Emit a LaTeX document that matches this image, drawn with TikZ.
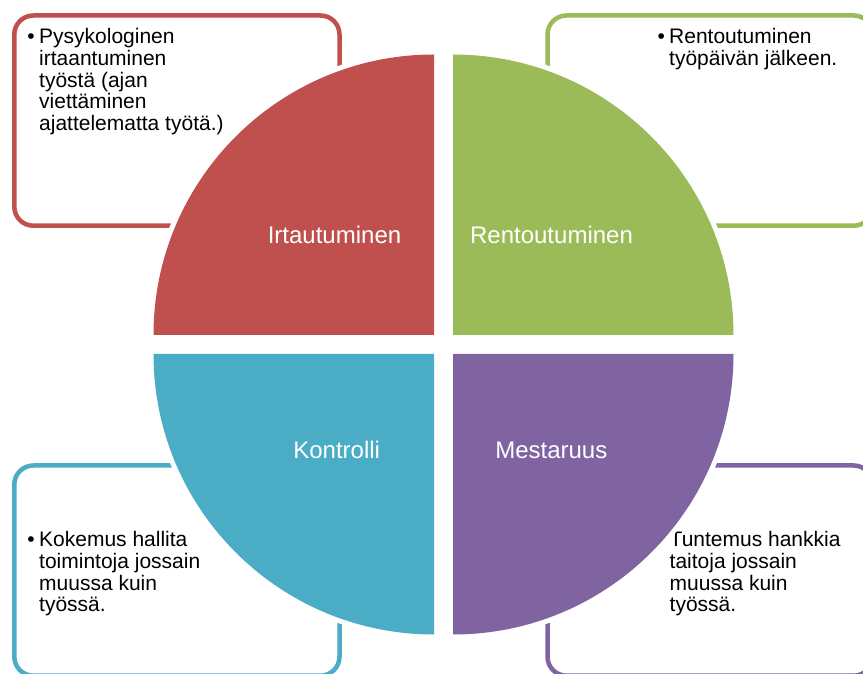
\documentclass[tikz,border=0pt]{standalone}
\usepackage{fontspec}
\setmainfont{Liberation Sans}
\definecolor{cred}{HTML}{C0504D}
\definecolor{cgreen}{HTML}{9BBB59}
\definecolor{cblue}{HTML}{4BACC6}
\definecolor{cpurple}{HTML}{8064A2}
\tikzset{
  infobox/.style={draw=#1, line width=4.5pt, rounded corners=19pt, fill=white},
  bodytxt/.style={anchor=base west, inner sep=0pt, text=black,
    font=\fontsize{21}{21.7}\selectfont},
  halo/.style={draw=white, line width=10pt, line join=round, fill=white},
  quarterlabel/.style={anchor=base, inner sep=0pt, text=white,
    font=\fontsize{24}{28}\selectfont}
}
\newcommand{\btab}[1]{\begin{tabular}[t]{@{}p{10.5pt}@{}l@{}}#1\end{tabular}}
\newcommand{\bul}{\hspace*{-1.2pt}•}
\begin{document}
\begin{tikzpicture}[x=1pt,y=1pt]
\useasboundingbox (0,0) rectangle (863,673);
\clip (0,0) rectangle (863,673);
\fill[white] (0,0) rectangle (863,673);
% boxes
\draw[infobox=cred] (14.3,657.5) rectangle (339.5,447.3);
\draw[infobox=cgreen] (547.5,657.5) rectangle (872.7,447.3);
\draw[infobox=cblue] (14.3,207.5) rectangle (339.5,-2.7);
\draw[infobox=cpurple] (547.5,207.5) rectangle (872.7,-2.7);
% texts
\node[bodytxt] (t1) at (28.5,629.3) {\btab{\bul & Pysykologinen\\ & irtaantuminen\\ & työstä (ajan\\ & viettäminen\\ & ajattelematta työtä.)}};
\node[bodytxt] (t2) at (658.5,629.7) {\btab{\bul & Rentoutuminen\\ & työpäivän jälkeen.}};
\node[bodytxt] (t3) at (28.5,126.3) {\btab{\bul & Kokemus hallita\\ & toimintoja jossain\\ & muussa kuin\\ & työssä.}};
\node[bodytxt] (t4) at (659,126.3) {\btab{\bul & Tuntemus hankkia\\ & taitoja jossain\\ & muussa kuin\\ & työssä.}};
% quarters
\coordinate (cr) at (434,338);
\coordinate (cg) at (453,338);
\coordinate (cb) at (434,319);
\coordinate (cp) at (453,319);
\path[halo] (cr) -- (153.5,338) arc[start angle=180,end angle=90,radius=280.5] -- cycle;
\path[halo] (cg) -- (733.5,338) arc[start angle=0,end angle=90,radius=280.5] -- cycle;
\path[halo] (cb) -- (153.5,319) arc[start angle=180,end angle=270,radius=280.5] -- cycle;
\path[halo] (cp) -- (733.5,319) arc[start angle=0,end angle=-90,radius=280.5] -- cycle;
\fill[cred] (cr) -- (153.5,338) arc[start angle=180,end angle=90,radius=280.5] -- cycle;
\fill[cgreen] (cg) -- (733.5,338) arc[start angle=0,end angle=90,radius=280.5] -- cycle;
\fill[cblue] (cb) -- (153.5,319) arc[start angle=180,end angle=270,radius=280.5] -- cycle;
\fill[cpurple] (cp) -- (733.5,319) arc[start angle=0,end angle=-90,radius=280.5] -- cycle;
% labels
\node[quarterlabel] (l1) at (334.5,429) {Irtautuminen};
\node[quarterlabel] (l2) at (551.5,429) {Rentoutuminen};
\node[quarterlabel] (l3) at (336.7,214) {Kontrolli};
\node[quarterlabel] (l4) at (551.3,214) {Mestaruus};
\end{tikzpicture}
\end{document}
